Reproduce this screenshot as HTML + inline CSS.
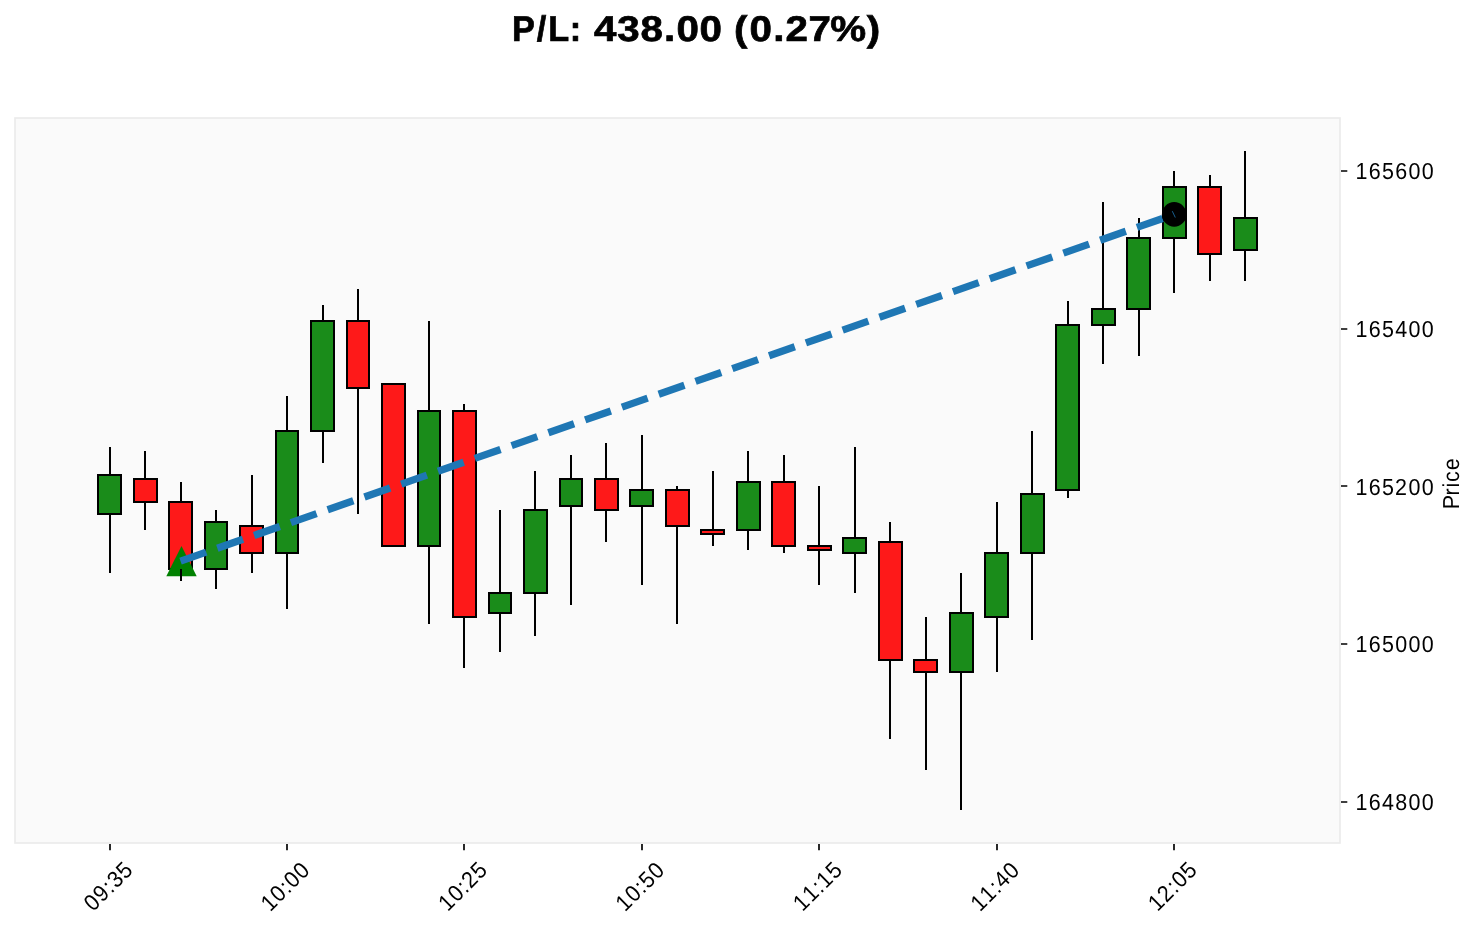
<!DOCTYPE html>
<html><head><meta charset="utf-8">
<style>
html,body{margin:0;padding:0;background:#ffffff;}
body{width:1477px;height:929px;overflow:hidden;position:relative;}
svg{position:absolute;left:0;top:0;}
text{font-family:"Liberation Sans",sans-serif;fill:#000;}
</style></head><body>
<svg width="1477" height="929" viewBox="0 0 1477 929">
<rect x="15" y="118" width="1325" height="725" fill="#fafafa" stroke="#ebebeb" stroke-width="1.67"/>
<g stroke="#000" stroke-width="2"><rect x="98" y="475" width="23" height="39" fill="#1a8c1a"/><rect x="134" y="479" width="23" height="23" fill="#fe1919"/><rect x="169" y="502" width="23" height="67" fill="#fe1919"/><rect x="205" y="522" width="22" height="47" fill="#1a8c1a"/><rect x="240" y="526" width="23" height="27" fill="#fe1919"/><rect x="276" y="431" width="22" height="122" fill="#1a8c1a"/><rect x="311" y="321" width="23" height="110" fill="#1a8c1a"/><rect x="347" y="321" width="22" height="67" fill="#fe1919"/><rect x="382" y="384" width="23" height="162" fill="#fe1919"/><rect x="418" y="411" width="22" height="135" fill="#1a8c1a"/><rect x="453" y="411" width="23" height="206" fill="#fe1919"/><rect x="489" y="593" width="22" height="20" fill="#1a8c1a"/><rect x="524" y="510" width="23" height="83" fill="#1a8c1a"/><rect x="560" y="479" width="22" height="27" fill="#1a8c1a"/><rect x="595" y="479" width="23" height="31" fill="#fe1919"/><rect x="630" y="490" width="23" height="16" fill="#1a8c1a"/><rect x="666" y="490" width="23" height="36" fill="#fe1919"/><rect x="701" y="530" width="23" height="4" fill="#fe1919"/><rect x="737" y="482" width="23" height="48" fill="#1a8c1a"/><rect x="772" y="482" width="23" height="64" fill="#fe1919"/><rect x="808" y="546" width="23" height="4" fill="#fe1919"/><rect x="843" y="538" width="23" height="15" fill="#1a8c1a"/><rect x="879" y="542" width="23" height="118" fill="#fe1919"/><rect x="914" y="660" width="23" height="12" fill="#fe1919"/><rect x="950" y="613" width="23" height="59" fill="#1a8c1a"/><rect x="985" y="553" width="23" height="64" fill="#1a8c1a"/><rect x="1021" y="494" width="23" height="59" fill="#1a8c1a"/><rect x="1056" y="325" width="23" height="165" fill="#1a8c1a"/><rect x="1092" y="309" width="23" height="16" fill="#1a8c1a"/><rect x="1127" y="238" width="23" height="71" fill="#1a8c1a"/><rect x="1163" y="187" width="23" height="51" fill="#1a8c1a"/><rect x="1198" y="187" width="23" height="67" fill="#fe1919"/><rect x="1234" y="218" width="23" height="32" fill="#1a8c1a"/></g>
<path d="M181.5 546L166.3 576.2H196.7Z" fill="#008000"/>
<path d="M110 447V475M110 514V573M145 451V479M145 502V530M181 482V502M181 569V581M216 510V522M216 569V589M252 475V526M252 553V573M287 396V431M287 553V609M323 305V321M323 431V463M358 289V321M358 388V514M394 383V384M394 546V547M429 321V411M429 546V624M464 404V411M464 617V668M500 510V593M500 613V652M535 471V510M535 593V636M571 455V479M571 506V605M606 443V479M606 510V542M642 435V490M642 506V585M677 486V490M677 526V624M713 471V530M713 534V546M748 451V482M748 530V550M784 455V482M784 546V553M819 486V546M819 550V585M855 447V538M855 553V593M890 522V542M890 660V739M926 617V660M926 672V770M961 573V613M961 672V810M997 502V553M997 617V672M1032 431V494M1032 553V640M1068 301V325M1068 490V498M1103 202V309M1103 325V364M1139 218V238M1139 309V356M1174 171V187M1174 238V293M1210 175V187M1210 254V281M1245 151V218M1245 250V281" stroke="#000" stroke-width="2" fill="none"/>
<line x1="180.53" y1="561.1" x2="1174.25" y2="214.4" stroke="#1f77b4" stroke-width="7.3" stroke-dasharray="27.2 11.76"/>
<circle cx="1174.2" cy="214.4" r="12.3" fill="#000"/>
<path d="M1172.3 211.2L1175.3 217.5" stroke="#1f77b4" stroke-width="0.8" fill="none"/>
<path d="M1341 171H1347.3M1341 329H1347.3M1341 486H1347.3M1341 644H1347.3M1341 802H1347.3 M110 844V850.3M287 844V850.3M464 844V850.3M642 844V850.3M819 844V850.3M997 844V850.3M1174 844V850.3" stroke="#000" stroke-width="1.67" fill="none"/>
<g opacity="0.999" text-rendering="geometricPrecision"><text transform="translate(510.97 40.80) scale(0.9600 1)" x="1.12 26.83 38.76 61.25" y="0" font-size="35.70" font-weight="bold" stroke="#000" stroke-width="0.7">P/L:</text><text transform="translate(510.97 40.80) scale(1.1300 1)" x="73.40 94.16 114.61 135.49 146.40 166.92 187.26 197.37 211.20 232.03 242.89 263.26 282.56 314.76" y="0" font-size="35.70" font-weight="bold" stroke="#000" stroke-width="0.7">438.00 (0.27%)</text>
<text transform="translate(1354.86 179.00) scale(0.9300 1)" x="0.58 14.95 29.12 43.46 57.71 71.96" y="0" font-size="23.10">165600</text><text transform="translate(1354.86 337.00) scale(0.9300 1)" x="0.58 14.95 29.12 43.45 57.71 71.96" y="0" font-size="23.10">165400</text><text transform="translate(1354.86 495.00) scale(0.9300 1)" x="0.58 14.95 29.12 43.16 57.71 71.96" y="0" font-size="23.10">165200</text><text transform="translate(1354.86 652.00) scale(0.9300 1)" x="0.58 14.95 29.12 43.45 57.71 71.96" y="0" font-size="23.10">165000</text><text transform="translate(1354.86 810.00) scale(0.9300 1)" x="0.58 14.95 29.20 43.45 57.71 71.96" y="0" font-size="23.10">164800</text>
<text transform="translate(92.40 913.04) rotate(-45) scale(0.9300 1)" x="1.33 15.15 29.07 36.51 50.29" y="0" font-size="23.10">09:35</text><text transform="translate(269.36 913.35) rotate(-45) scale(0.9300 1)" x="1.21 15.22 29.07 36.48 50.37" y="0" font-size="23.10">10:00</text><text transform="translate(446.95 913.04) rotate(-45) scale(0.9300 1)" x="1.21 15.22 29.07 36.19 50.29" y="0" font-size="23.10">10:25</text><text transform="translate(624.24 913.35) rotate(-45) scale(0.9300 1)" x="1.21 15.22 29.07 36.39 50.37" y="0" font-size="23.10">10:50</text><text transform="translate(801.83 913.04) rotate(-45) scale(0.9300 1)" x="1.21 15.10 29.07 36.36 50.29" y="0" font-size="23.10">11:15</text><text transform="translate(979.11 913.35) rotate(-45) scale(0.9300 1)" x="1.21 15.10 29.07 36.48 50.37" y="0" font-size="23.10">11:40</text><text transform="translate(1156.70 913.04) rotate(-45) scale(0.9300 1)" x="1.21 14.93 29.07 36.48 50.29" y="0" font-size="23.10">12:05</text>
<text transform="translate(1459.00 508.75) rotate(-90) scale(0.9300 1)" x="-0.57 14.32 22.88 28.67 41.38" y="0" font-size="23.10">Price</text></g>
</svg>
</body></html>
